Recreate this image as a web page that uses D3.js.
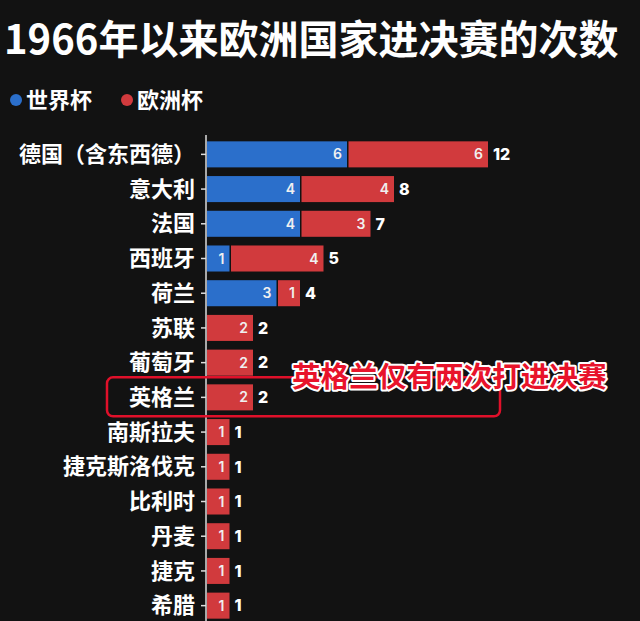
<!DOCTYPE html>
<html><head><meta charset="utf-8">
<script src="https://cdn.jsdelivr.net/npm/d3@7"></script>
<style>
html,body{margin:0;padding:0;background:#121212;}
svg{display:block;}
text{font-family:"Noto Sans CJK SC","Noto Sans",sans-serif;}
</style></head>
<body>
<script>
const countries = ["德国（含东西德）","意大利","法国","西班牙","荷兰","苏联","葡萄牙","英格兰","南斯拉夫","捷克斯洛伐克","比利时","丹麦","捷克","希腊"];
const worldCup = [6,4,4,1,3,0,0,0,0,0,0,0,0,0];
const euroCup  = [6,4,3,4,1,2,2,2,1,1,1,1,1,1];
const seriesNames = ["世界杯","欧洲杯"];
const title = "1966年以来欧洲国家进决赛的次数";
const note = "英格兰仅有两次打进决赛";

const W = 640, H = 621;
const blue = "#2b6fcb", red = "#d13a3d";
const svg = d3.select("body").append("svg").attr("width", W).attr("height", H);
svg.append("rect").attr("width", W).attr("height", H).attr("fill", "#121212");

const data = countries.map((c,i)=>({c, wc: worldCup[i], eu: euroCup[i], t: worldCup[i]+euroCup[i]}));

const x = d3.scaleLinear().domain([0, 12]).range([206, 488]);
const y = d3.scaleBand().domain(countries).range([137, 623]).paddingInner(0.25).paddingOuter(0.125);

// title
svg.append("text").attr("x", 4).attr("y", 54).attr("fill", "#fff")
  .attr("font-size", 40).attr("font-weight", 700).text(title);

// legend
const leg = [{n: seriesNames[0], col: blue, x: 16}, {n: seriesNames[1], col: red, x: 127}];
leg.forEach(l => {
  svg.append("circle").attr("cx", l.x).attr("cy", 100).attr("r", 6).attr("fill", l.col);
  svg.append("text").attr("x", l.x + 10).attr("y", 108).attr("fill", "#fff")
    .attr("font-size", 22).attr("font-weight", 700).text(l.n);
});

// axis
const axis = svg.append("g").attr("transform", `translate(${x(0)},0)`)
  .call(d3.axisLeft(y).tickSize(5).tickPadding(6));
axis.select(".domain").remove();
axis.selectAll(".tick line").attr("stroke", "#ddd").attr("stroke-width", 1.5);
axis.selectAll(".tick text").attr("fill", "#fff").attr("font-size", 22).attr("font-weight", 700)
  .attr("dy", "0.35em")
  .style("font-family", '"Noto Sans CJK SC",sans-serif');
svg.append("line").attr("x1", x(0)).attr("x2", x(0)).attr("y1", 135).attr("y2", H)
  .attr("stroke", "#ddd").attr("stroke-width", 1.5);

// bars
const g = svg.append("g");
g.selectAll(".wc").data(data.filter(d=>d.wc>0)).join("rect")
  .attr("x", x(0) + 1).attr("y", d=>y(d.c))
  .attr("width", d=>x(d.wc)-x(0)-1).attr("height", y.bandwidth()).attr("fill", blue);
g.selectAll(".eu").data(data).join("rect")
  .attr("x", d=>x(d.wc) + (d.wc>0?1.5:1)).attr("y", d=>y(d.c))
  .attr("width", d=>x(d.wc+d.eu)-x(d.wc)-(d.wc>0?1.5:1)).attr("height", y.bandwidth()).attr("fill", red);

// inner labels
g.selectAll(".wcl").data(data.filter(d=>d.wc>0)).join("text")
  .attr("x", d=>x(d.wc)-5).attr("y", d=>y(d.c)+y.bandwidth()/2).attr("dy", "0.36em")
  .attr("text-anchor", "end").attr("fill", "#f0f0f0").attr("font-size", 14).attr("font-weight", 600)
  .style("font-family", "Inter,sans-serif").text(d=>d.wc);
g.selectAll(".eul").data(data).join("text")
  .attr("x", d=>x(d.wc+d.eu)-5).attr("y", d=>y(d.c)+y.bandwidth()/2).attr("dy", "0.36em")
  .attr("text-anchor", "end").attr("fill", "#f0f0f0").attr("font-size", 14).attr("font-weight", 600)
  .style("font-family", "Inter,sans-serif").text(d=>d.eu);
g.selectAll(".tl").data(data).join("text")
  .attr("x", d=>x(d.t)+5).attr("y", d=>y(d.c)+y.bandwidth()/2).attr("dy", "0.36em")
  .attr("fill", "#fff").attr("font-size", 16).attr("font-weight", 800)
  .style("font-family", "Inter,sans-serif").text(d=>d.t);

// annotation
const eng = "英格兰";
const ey = y(eng) + y.bandwidth()/2;
svg.append("rect").attr("x", 107).attr("y", ey - 20).attr("width", 393).attr("height", 39)
  .attr("rx", 6).attr("fill", "none").attr("stroke", "#e0102a").attr("stroke-width", 2.5);
svg.append("text").attr("x", 292).attr("y", 387).attr("font-size", 28.6).attr("font-weight", 700)
  .attr("fill", "#e8132b").attr("stroke", "#fff").attr("stroke-width", 4).attr("paint-order", "stroke")
  .attr("stroke-linejoin", "round").text(note);
</script>
</body></html>
